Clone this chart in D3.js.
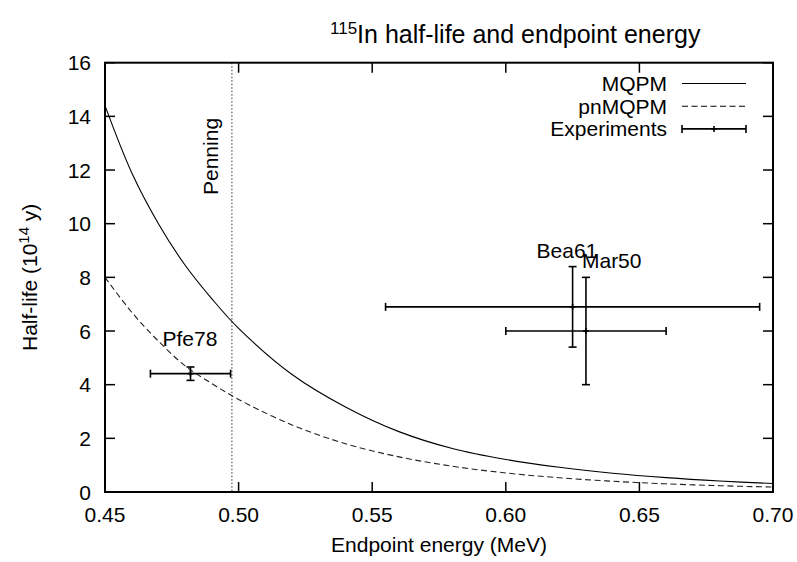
<!DOCTYPE html>
<html>
<head>
<meta charset="utf-8">
<script src="https://cdn.jsdelivr.net/npm/d3@7"></script>
<style>
  body { margin: 0; background: #fff; }
  svg { font-family: "Liberation Sans", Arial, Helvetica, sans-serif; }
</style>
</head>
<body>
<svg id="chart" width="797" height="562"></svg>
<script>
const energies = [0.45, 0.46, 0.47, 0.48, 0.49, 0.50, 0.52, 0.54, 0.56, 0.58, 0.60, 0.62, 0.64, 0.66, 0.68, 0.70];
// half-life in 10^14 y
const mqpm   = [14.4, 11.9, 10.0, 8.45, 7.2, 6.1, 4.38, 3.17, 2.25, 1.62, 1.21, 0.92, 0.70, 0.535, 0.41, 0.315];
const pnmqpm = [8.0, 6.7, 5.62, 4.7, 4.04, 3.45, 2.5, 1.8, 1.31, 0.96, 0.71, 0.53, 0.40, 0.305, 0.235, 0.183];

// experiments: label, energy, energy error, half-life, half-life error
const expNames = ["Pfe78", "Bea61", "Mar50"];
const expE     = [0.482, 0.625, 0.63];
const expEErr  = [0.015, 0.07, 0.03];
const expT     = [4.41, 6.9, 6.0];
const expTErr  = [0.25, 1.5, 2.0];

const penning = 0.4975;

const xTicks = [0.45, 0.50, 0.55, 0.60, 0.65, 0.70];
const yTicks = [0, 2, 4, 6, 8, 10, 12, 14, 16];

const margin = { top: 62.7, right: 24, bottom: 70, left: 105 };
const width = 797, height = 562;
const FS = 21;

const svg = d3.select("#chart");

const x = d3.scaleLinear().domain([0.45, 0.70]).range([margin.left, width - margin.right]);
const y = d3.scaleLinear().domain([0, 16]).range([height - margin.bottom, margin.top]);

// penning line (under everything)
svg.append("line")
    .attr("x1", x(penning)).attr("x2", x(penning))
    .attr("y1", y(16)).attr("y2", y(0))
    .attr("stroke", "#333").attr("stroke-width", 1)
    .attr("stroke-dasharray", "1.5,2");

svg.append("text")
    .attr("transform", `translate(${x(penning) - 14}, 195) rotate(-90)`)
    .style("font-size", FS + "px")
    .text("Penning");

// ticks, mirrored on all sides, pointing inward
const tickLen = 10;
const ticks = svg.append("g").attr("stroke", "#000").attr("stroke-width", 1.5);
xTicks.forEach(t => {
    ticks.append("line").attr("x1", x(t)).attr("x2", x(t)).attr("y1", y(0)).attr("y2", y(0) - tickLen);
    ticks.append("line").attr("x1", x(t)).attr("x2", x(t)).attr("y1", y(16)).attr("y2", y(16) + tickLen);
});
yTicks.forEach(t => {
    ticks.append("line").attr("x1", x(0.45)).attr("x2", x(0.45) + tickLen).attr("y1", y(t)).attr("y2", y(t));
    ticks.append("line").attr("x1", x(0.70)).attr("x2", x(0.70) - tickLen).attr("y1", y(t)).attr("y2", y(t));
});

svg.append("g").selectAll("text")
    .data(xTicks)
    .join("text")
    .attr("x", d => x(d))
    .attr("y", 522)
    .attr("text-anchor", "middle")
    .style("font-size", FS + "px")
    .text(d => d.toFixed(2));

svg.append("g").selectAll("text")
    .data(yTicks)
    .join("text")
    .attr("x", 91)
    .attr("y", d => y(d) + 7.5)
    .attr("text-anchor", "end")
    .style("font-size", FS + "px")
    .text(d => d);

// curves
const line = d3.line()
    .x(d => x(d[0]))
    .y(d => y(d[1]))
    .curve(d3.curveCatmullRom.alpha(0.5));

svg.append("path")
    .attr("d", line(d3.zip(energies, mqpm)))
    .attr("fill", "none").attr("stroke", "#000").attr("stroke-width", 1.1);

svg.append("path")
    .attr("d", line(d3.zip(energies, pnmqpm)))
    .attr("fill", "none").attr("stroke", "#222").attr("stroke-width", 1.1)
    .attr("stroke-dasharray", "6,3.5");

// error bars
function errorCross(g, cx, cy, x0, x1, y0, y1) {
    const cap = 4;
    g.append("line").attr("x1", x0).attr("x2", x1).attr("y1", cy).attr("y2", cy);
    g.append("line").attr("x1", x0).attr("x2", x0).attr("y1", cy - cap).attr("y2", cy + cap);
    g.append("line").attr("x1", x1).attr("x2", x1).attr("y1", cy - cap).attr("y2", cy + cap);
    if (y0 !== null) {
        g.append("line").attr("x1", cx).attr("x2", cx).attr("y1", y0).attr("y2", y1);
        g.append("line").attr("x1", cx - cap).attr("x2", cx + cap).attr("y1", y0).attr("y2", y0);
        g.append("line").attr("x1", cx - cap).attr("x2", cx + cap).attr("y1", y1).attr("y2", y1);
    }
    // point marker
    g.append("line").attr("x1", cx - 3).attr("x2", cx + 3).attr("y1", cy).attr("y2", cy);
    g.append("line").attr("x1", cx).attr("x2", cx).attr("y1", cy - 3).attr("y2", cy + 3);
}

const bars = svg.append("g").attr("stroke", "#000").attr("stroke-width", 1.6);
expNames.forEach((n, i) => {
    errorCross(bars, x(expE[i]), y(expT[i]),
        x(expE[i] - expEErr[i]), x(expE[i] + expEErr[i]),
        y(expT[i] - expTErr[i]), y(expT[i] + expTErr[i]));
});

// experiment labels
const labelPos = [[-28, -28], [-36, -49], [-4, -63]];
svg.append("g").selectAll("text")
    .data(expNames)
    .join("text")
    .attr("x", (d, i) => x(expE[i]) + labelPos[i][0])
    .attr("y", (d, i) => y(expT[i]) + labelPos[i][1])
    .style("font-size", FS + "px")
    .text(d => d);

// frame
svg.append("rect")
    .attr("x", x(0.45)).attr("y", y(16))
    .attr("width", x(0.70) - x(0.45)).attr("height", y(0) - y(16))
    .attr("fill", "none").attr("stroke", "#000").attr("stroke-width", 2);

// legend
const legend = svg.append("g");
const legItems = [
    { name: "MQPM", dash: null },
    { name: "pnMQPM", dash: "6,3.5" },
    { name: "Experiments", dash: "err" }
];
legItems.forEach((d, i) => {
    const ly = 83.5 + i * 22.7;
    legend.append("text")
        .attr("x", 667).attr("y", ly + 7.5)
        .attr("text-anchor", "end")
        .style("font-size", FS + "px")
        .text(d.name);
    if (d.dash === "err") {
        const g = legend.append("g").attr("stroke", "#000").attr("stroke-width", 1.6);
        errorCross(g, 714, ly, 682, 746, null, null);
    } else {
        legend.append("line")
            .attr("x1", 682).attr("x2", 746).attr("y1", ly).attr("y2", ly)
            .attr("stroke", "#000").attr("stroke-width", 1.1)
            .attr("stroke-dasharray", d.dash);
    }
});

// titles
const title = svg.append("text")
    .attr("x", 330).attr("y", 43)
    .style("font-size", "25px");
title.append("tspan").attr("dy", -9).style("font-size", "17px").text("115");
title.append("tspan").attr("dy", 9).text("In half-life and endpoint energy");

svg.append("text")
    .attr("x", x(0.575)).attr("y", 552)
    .attr("text-anchor", "middle")
    .style("font-size", FS + "px")
    .text("Endpoint energy (MeV)");

const ylab = svg.append("text")
    .attr("transform", `translate(37, ${y(8)}) rotate(-90)`)
    .attr("text-anchor", "middle")
    .style("font-size", FS + "px");
ylab.append("tspan").text("Half-life (10");
ylab.append("tspan").attr("dy", -8).style("font-size", "15px").text("14");
ylab.append("tspan").attr("dy", 8).text(" y)");
</script>
</body>
</html>
